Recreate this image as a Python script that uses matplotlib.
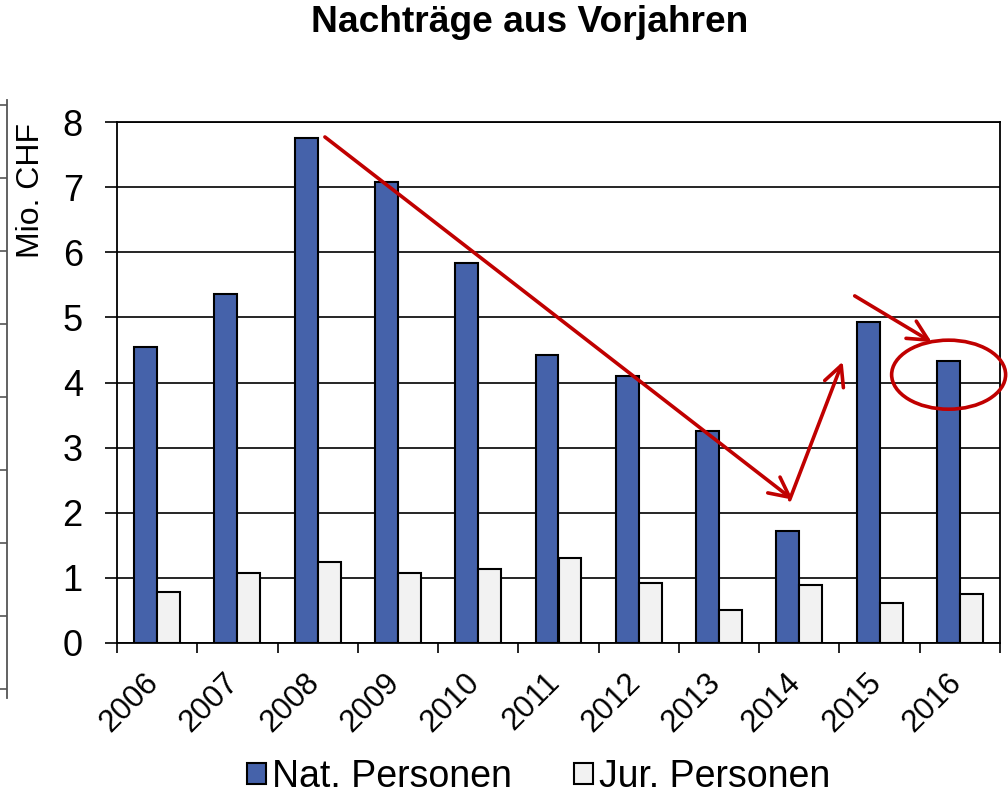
import matplotlib
matplotlib.use("Agg")
import matplotlib.pyplot as plt
import matplotlib.transforms as mtransforms
from matplotlib.patches import Ellipse
import numpy as np

plt.rcParams['font.family'] = ['Liberation Sans', 'DejaVu Sans']

# data
years = ['2006', '2007', '2008', '2009', '2010', '2011',
         '2012', '2013', '2014', '2015', '2016']
nat_personen = [4.55, 5.36, 7.76, 7.08, 5.84, 4.42, 4.10, 3.26, 1.72, 4.93, 4.33]
jur_personen = [0.79, 1.08, 1.25, 1.08, 1.13, 1.30, 0.92, 0.50, 0.89, 0.61, 0.75]

blue = '#4562AA'
grey = '#F2F2F2'
red = '#C00000'

fig = plt.figure(figsize=(10.08, 7.93), dpi=100)
ax = fig.add_axes([117/1008, 1-643/793, (1000-117)/1008, (643-122)/793])

x = np.arange(len(years))
w = 0.285
ax.bar(x - 0.143, nat_personen, w, color=blue, edgecolor='black', lw=1.5,
       label='Nat. Personen', zorder=3)
ax.bar(x + 0.143, jur_personen, w, color=grey, edgecolor='black', lw=1.5,
       label='Jur. Personen', zorder=3)

ax.set_xlim(-0.5, len(years) - 0.5)
ax.set_ylim(0, 8)
ax.set_yticks(range(0, 9))
ax.yaxis.grid(True, color='black', lw=1.2, zorder=0)
ax.set_axisbelow(True)
for s in ax.spines.values():
    s.set_color('black')
    s.set_linewidth(1.3)

ax.tick_params(axis='y', labelsize=26, length=8.6, width=1.2, pad=16, direction='out')

# category labels at the centres, tick marks at the boundaries
ax.set_xticks(x)
ax.set_xticks(np.arange(len(years) + 1) - 0.5, minor=True)
ax.tick_params(axis='x', which='major', length=0, pad=25, labelsize=22.5)
ax.tick_params(axis='x', which='minor', length=7.2, width=1.2, direction='out')
ax.set_xticklabels(years, rotation=45, ha='right', va='center', rotation_mode='anchor')
offset = mtransforms.ScaledTranslation(-3/100, 0, fig.dpi_scale_trans)
for lab in ax.get_xticklabels():
    lab.set_transform(lab.get_transform() + offset)

fig.text(31/1008, 1-190/793, 'Mio. CHF', rotation=90, ha='center', va='center',
         fontsize=23)
fig.text(530/1008, 1-23/793, 'Nachträge aus Vorjahren', ha='center', va='center',
         fontsize=26.7, weight='bold')

# red annotations
arrow = dict(arrowstyle='->', color=red, lw=2.6, mutation_scale=36,
             shrinkA=0, shrinkB=0)
ax.annotate('', xy=(7.92, 2.20), xytext=(2.09, 7.77), arrowprops=arrow)
ax.annotate('', xy=(8.54, 4.32), xytext=(7.88, 2.20), arrowprops=arrow)
ax.annotate('', xy=(9.65, 4.62), xytext=(8.69, 5.33), arrowprops=arrow)
ax.add_patch(Ellipse((9.86, 4.12), 1.42, 1.06, fill=False, edgecolor=red,
                     lw=2.6, clip_on=False, zorder=5))

fig.legend(loc='center', bbox_to_anchor=(539/1008, 1-777/793), ncol=2,
           frameon=False, fontsize=27, handlelength=0.5, handleheight=0.5,
           handletextpad=0.17, columnspacing=1.65)

# cut-off axis of a neighbouring chart at the left edge
ax2 = fig.add_axes([7/1008, 1-698/793, 0.001, (698-100)/793])
ax2.set_ylim(-0.123, 8.068)
ax2.set_yticks(range(0, 9))
ax2.set_xticks([])
ax2.set_yticklabels([])
for side in ['top', 'right', 'bottom']:
    ax2.spines[side].set_visible(False)
ax2.spines['left'].set_color('#555555')
ax2.spines['left'].set_linewidth(1.3)
ax2.tick_params(axis='y', length=5, width=1.2, color='#555555', direction='out')
ax2.patch.set_visible(False)

fig.savefig('out.png', dpi=100)
